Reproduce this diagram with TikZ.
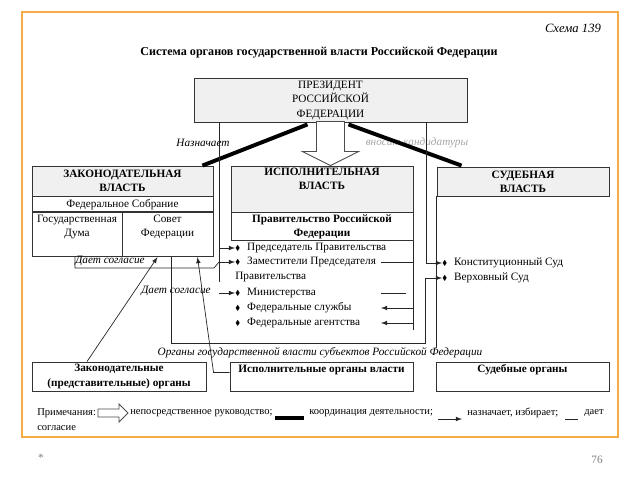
\documentclass[tikz,border=0pt]{standalone}
\usepackage{fontspec}
\setmainfont{Liberation Serif}
\usepackage{amssymb}
\usetikzlibrary{calc, positioning}
\definecolor{frameor}{RGB}{243,172,72}
\newcommand{\dmd}{\raisebox{0.3pt}{\scalebox{0.65}{$\blacklozenge$}}}

\begin{document}
\begin{tikzpicture}[x=0.025cm, y=-0.025cm, >=latex,
    font=\fontsize{8}{10}\selectfont,
    box/.style={draw=black!80, line width=0.6pt, inner sep=0pt},
    hdr/.style={box, fill=gray!12},
    txt/.style={inner sep=0pt, align=center},
    bfont/.style={font=\fontsize{8}{10}\selectfont\bfseries},
    item/.style={inner sep=0pt, anchor=west},
    lbl/.style={inner sep=0pt, font=\fontsize{8}{10}\selectfont\itshape},
    link/.style={draw=black!85, line width=0.5pt},
    coord/.style={line width=2.8pt, black},
    hollow/.style={draw=black!70, line width=0.6pt, fill=white},
    legend/.style={item, font=\fontsize{7.5}{9}\selectfont}]
    % 1. Рамка
    \useasboundingbox (0,0) rectangle (640,480);
    \draw[frameor, line width=1.4pt] (22,12) rectangle (618,437);
    \node[txt, font=\fontsize{9}{11}\selectfont\itshape] (schema) at (573,28) {Схема 139};
    \node[txt, font=\fontsize{8.6}{11}\selectfont\bfseries] (title) at (319,53)
        {Система органов государственной власти Российской Федерации};

    % 2. Президент и три ветви власти
    \node[hdr, minimum width=6.825cm, minimum height=1.1cm, align=center,
          font=\fontsize{8}{10.3}\selectfont] (pres) at (330.5,100)
        {ПРЕЗИДЕНТ\\РОССИЙСКОЙ\\ФЕДЕРАЦИИ};

    \node[hdr, bfont, align=center, minimum width=4.525cm, minimum height=0.75cm] (legh) at (122.5,181)
        {ЗАКОНОДАТЕЛЬНАЯ\\ВЛАСТЬ};
    \node[box, minimum width=4.525cm, minimum height=0.375cm, below=0pt of legh] (fs) {Федеральное Собрание};
    \node[box, minimum width=2.25cm, minimum height=1.1cm, anchor=north west] (duma) at (fs.south west) {};
    \node[box, minimum width=2.275cm, minimum height=1.1cm, anchor=north east] (sovet) at (fs.south east) {};
    \node[txt, below=2pt of duma.north] (dumat) {Государственная\\Дума};
    \node[txt, below=2pt of sovet.north] (sovett) {Совет\\Федерации};

    \node[hdr, minimum width=4.55cm, minimum height=1.15cm] (exech) at (322,189) {};
    \node[txt, bfont, below=1.5pt of exech.north] (execht) {ИСПОЛНИТЕЛЬНАЯ\\ВЛАСТЬ};
    \node[box, bfont, align=center, minimum width=4.55cm, minimum height=0.7cm, below=0pt of exech] (gov)
        {Правительство Российской\\Федерации};

    \node[hdr, bfont, align=center, minimum width=4.3cm, minimum height=0.725cm] (jud) at (523,181.5)
        {СУДЕБНАЯ\\ВЛАСТЬ};

    % 3. Списки органов
    \node[item] (i1) at (235,248) {\dmd\hspace{5pt}Председатель Правительства};
    \node[item] (i2) at (235,262) {\dmd\hspace{5pt}Заместители Председателя};
    \node[item] (i3) at (235,277) {Правительства};
    \node[item] (i4) at (235,293) {\dmd\hspace{5pt}Министерства};
    \node[item] (i5) at (235,308) {\dmd\hspace{5pt}Федеральные службы};
    \node[item] (i6) at (235,323) {\dmd\hspace{5pt}Федеральные агентства};
    \node[item] (c1) at (442,263) {\dmd\hspace{5pt}Конституционный Суд};
    \node[item] (c2) at (442,278) {\dmd\hspace{5pt}Верховный Суд};

    % 4. Органы субъектов
    \node[lbl] (subj) at (320,353) {Органы государственной власти субъектов Российской Федерации};
    \node[box, bfont, align=center, minimum width=4.35cm, minimum height=0.725cm] (legreg) at (119,376.5)
        {Законодательные\\(представительные) органы};
    \node[box, minimum width=4.575cm, minimum height=0.725cm] (execreg) at (321.5,376.5) {};
    \node[txt, bfont, below=2pt of execreg.north] (execregt) {Исполнительные органы власти};
    \node[box, minimum width=4.325cm, minimum height=0.725cm] (judreg) at (522.5,376.5) {};
    \node[txt, bfont, below=2pt of judreg.north] (judregt) {Судебные органы};

    % 5. Подписи у связей
    \node[lbl] (naz) at (203,143) {Назначает};
    \node[lbl, text=gray!70] (vnos) at (417,143) {вносит кандидатуры};
    \node[lbl] (ds1) at (110,261) {Дает согласие};
    \node[lbl] (ds2) at (176,291) {Дает согласие};

    % 6. Руководство и координация
    \coordinate (tip) at (pres.south |- exech.north);
    \draw[hollow] (tip) -- ++(-28,-14) -- ++(14,0) -- ++(0,-30) -- ++(28,0) -- ++(0,30) -- ++(14,0) -- cycle;
    \draw[coord] ($(pres.south)+(-23,2)$) -- ($(legh.north east)+(-11,0)$);
    \draw[coord] ($(pres.south)+(18,2)$) -- ($(jud.north west)+(25,-1)$);

    % 7. Назначает, избирает
    \coordinate (nazl) at (219,282);
    \draw[link] (nazl |- pres.south) -- (nazl);
    \draw[link, ->] (nazl |- i1.west) -- (i1.west);
    \draw[link, ->] (nazl |- i2.west) -- (i2.west);
    \draw[link, ->] (nazl |- i4.west) -- (i4.west);
    \coordinate (dsA) at (75,268);
    \coordinate (dsB) at (214,268);
    \draw[link] (dsA |- duma.south) -- (dsA) -- (dsB) -- (nazl |- i2.west);

    \coordinate (kand) at (426,263);
    \draw[link, ->] (kand |- pres.south) -- (kand |- c1.west) -- (c1.west);
    \coordinate (sfA) at (171,343);
    \coordinate (sfB) at (425,343);
    \draw[link, ->] (sfA |- sovet.south) -- (sfA) -- (sfB) -- (sfB |- c2.west) -- (c2.west);

    \coordinate (rt) at (413,330);
    \coordinate (stubL) at (381,0);
    \coordinate (stubR) at (406,0);
    \draw[link] (gov.south east) -- (gov.south east |- rt);
    \draw[link] (stubL |- i2.west) -- (rt |- i2.west);
    \draw[link] (stubL |- i4.west) -- (stubR |- i4.west);
    \draw[link, ->] (rt |- i5.west) -- (stubL |- i5.west);
    \draw[link, ->] (rt |- i6.west) -- (stubL |- i6.west);
    \coordinate (jl) at (437,348);
    \draw[link] (jud.south west) -- (jud.south west |- jl);

    \draw[link, ->] ($(legreg.north)+(-32,0)$) -- ($(sovet.south)+(-10,0)$);
    \draw[link, ->] ($(execreg.west)+(0,-4)$) -- ++(-16,0) -- ($(sovet.south)+(30,0)$);

    % 8. Примечания
    \node[legend] (note) at (37,413) {Примечания:};
    \coordinate (la1) at (98,413);
    \draw[hollow] ($(la1)+(0,-4)$) -- ++(21,0) -- ++(0,-5) -- ++(9,9) -- ++(-9,9) -- ++(0,-5) -- ++(-21,0) -- cycle;
    \node[legend] (n1) at (130,413) {непосредственное руководство;};
    \coordinate (la2) at (275,418);
    \draw[line width=3pt] (la2) -- ++(29,0);
    \node[legend] (n2) at (309,413) {координация деятельности;};
    \coordinate (la3) at (438,419);
    \draw[link, ->] (la3) -- ++(24,0);
    \node[legend] (n3) at (467,413) {назначает, избирает;};
    \coordinate (la4) at (565,419);
    \draw[link] (la4) -- ++(13,0);
    \node[legend] (n4) at (584,413) {дает};
    \node[legend] (n5) at (37,428) {согласие};

    \node[txt, text=gray, font=\fontsize{8}{10}\selectfont] (star) at (41,458) {*};
    \node[txt, text=gray, font=\fontsize{8}{10}\selectfont] (page) at (597,460) {76};
\end{tikzpicture}
\end{document}
